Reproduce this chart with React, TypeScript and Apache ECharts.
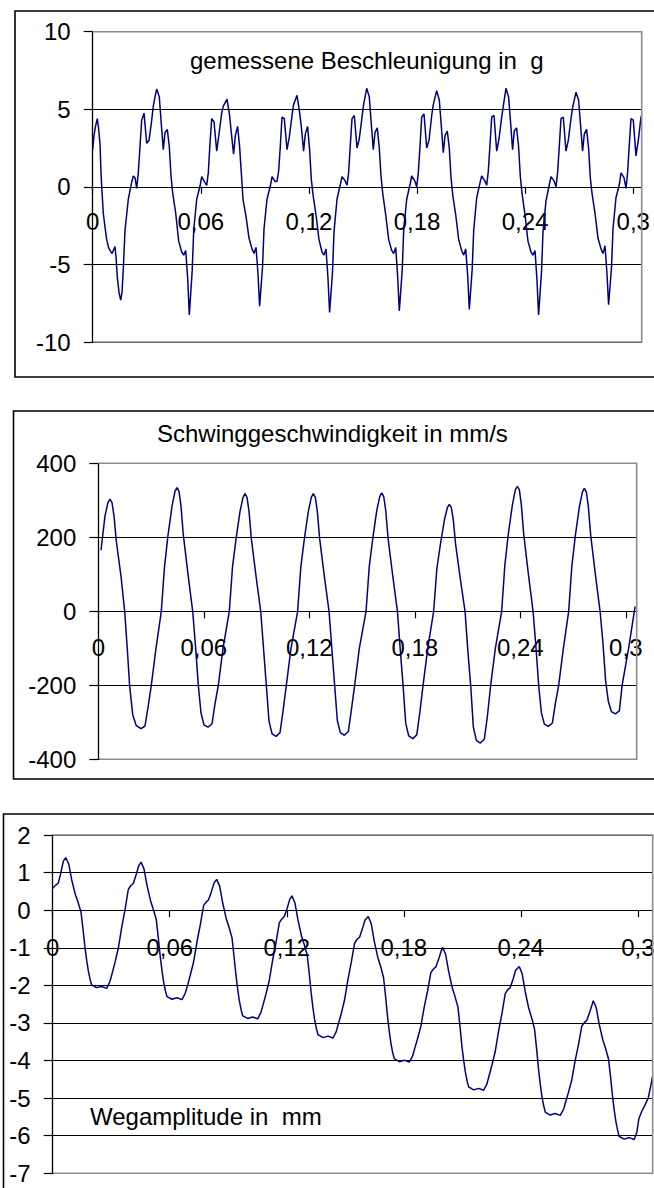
import { useEffect, useRef } from 'react';
import * as echarts from 'echarts';

// ---- data (time in milliseconds, values in chart units) ----

const xTickValues = [0, 0.06, 0.12, 0.18, 0.24, 0.3];

const accTitle = 'gemessene Beschleunigung in  g';
const velTitle = 'Schwinggeschwindigkeit in mm/s';
const dispTitle = 'Wegamplitude in  mm';

// Acceleration in g
const accTimeMs = [
  0, 0.72, 1.55, 2.55, 3.22, 4.05, 4.61, 5.16, 5.88, 6.83, 7.77, 8.77, 9.6, 10.71, 12.38, 12.93, 13.65, 14.6, 15.54, 16.26, 16.98, 17.93, 19.76, 21.65, 22.53, 23.48, 24.42, 25.31, 26.25, 27.2, 28.47, 29.97, 31.25, 32.75, 33.63, 34.58,
  35.52, 36.96, 37.91, 39.18, 40.13, 41.4, 42.51, 43.46, 44.4, 46.07, 47.73, 49.4, 50.51, 51.62, 52.72, 53.62, 55.22, 56.06, 57.72, 59.66, 60.5, 62.16, 63.27, 64.16, 65.1, 66.05, 67.32, 68.82, 70.1, 71.6, 72.48,
  74.54, 75.98, 76.93, 78.2, 79.15, 80.42, 81.53, 82.48, 83.42, 85.09, 86.75, 88.42, 89.53, 90.64, 91.74, 92.64, 94.24, 95.08, 96.74, 98.68, 99.52, 101.18, 102.29, 103.18, 104.12, 105.07, 106.34, 107.84, 109.12, 110.62, 111.5,
  113.39, 114.83, 115.78, 117.05, 118.0, 119.27, 120.38, 121.33, 122.27, 123.94, 125.6, 127.27, 128.38, 129.49, 130.59, 131.49, 133.09, 133.93, 135.59, 137.53, 138.37, 140.03, 141.14, 142.03, 142.97, 143.92, 145.19, 146.69, 147.97, 149.47, 150.35,
  152.07, 153.51, 154.46, 155.73, 156.68, 157.95, 159.06, 160.01, 160.95, 162.62, 164.28, 165.95, 167.06, 168.17, 169.27, 170.17, 171.77, 172.61, 174.27, 176.21, 177.05, 178.71, 179.82, 180.71, 181.65, 182.6, 183.87, 185.37, 186.65, 188.15, 189.03,
  190.92, 192.36, 193.31, 194.58, 195.53, 196.8, 197.91, 198.86, 199.8, 201.47, 203.13, 204.8, 205.91, 207.02, 208.12, 209.02, 210.62, 211.46, 213.12, 215.06, 215.9, 217.56, 218.67, 219.56, 220.5, 221.45, 222.72, 224.22, 225.5, 227.0, 227.88,
  229.38, 230.82, 231.77, 233.04, 233.99, 235.26, 236.37, 237.32, 238.26, 239.93, 241.59, 243.26, 244.37, 245.48, 246.58, 247.48, 249.08, 249.92, 251.58, 253.52, 254.36, 256.02, 257.13, 258.02, 258.96, 259.91, 261.18, 262.68, 263.96, 265.46, 266.34,
  268.23, 269.67, 270.62, 271.89, 272.84, 274.11, 275.22, 276.17, 277.11, 278.78, 280.44, 282.11, 283.22, 284.33, 285.43, 286.33, 287.93, 288.77, 290.43, 292.37, 293.21, 294.87, 295.98, 296.87, 297.81, 298.76, 300.03, 301.53, 302.81, 304.31, 304.7,
];
const accValue = [
  2.4, 3.3, 3.9, 4.4, 3.8, 2.8, 0.9, -0.3, -1.7, -2.6, -3.4, -3.9, -4.1, -4.3, -3.85, -4.5, -5.8, -6.8, -7.3, -6.8, -5.3, -2.8, -0.8, 0.3, 0.7, 0.6, -0.1, 0.9, 2.6, 4.3, 4.75, 2.8, 3.0, 4.3, 5.2, 5.8,
  6.3, 5.8, 4.3, 2.4, 3.5, 3.7, 2.6, 0.7, -0.4, -1.7, -3.5, -4.2, -4.4, -4.1, -5.9, -8.25, -5.4, -2.8, -0.8, 0.1, 0.66, 0.3, 0.1, 0.9, 2.8, 4.4, 4.2, 2.3, 3.4, 4.75, 5.2,
  5.65, 4.6, 3.5, 2.1, 3.3, 3.9, 2.6, 0.9, -0.8, -1.9, -3.3, -4.0, -4.3, -3.9, -5.6, -7.7, -5.2, -2.7, -0.8, 0.1, 0.66, 0.35, 0.35, 1.0, 2.6, 4.5, 4.4, 2.4, 3.2, 4.6, 5.3,
  5.9, 4.8, 3.9, 2.3, 3.4, 3.9, 2.4, 0.5, -0.5, -1.8, -3.4, -4.2, -4.4, -4.0, -5.9, -8.1, -5.5, -2.9, -0.8, 0.2, 0.66, 0.4, 0.1, 0.9, 2.7, 4.4, 4.6, 2.5, 3.1, 4.5, 5.3,
  6.35, 5.8, 4.3, 2.4, 3.5, 3.8, 2.5, 0.7, -0.4, -1.8, -3.4, -4.1, -4.3, -3.9, -5.8, -8.0, -5.4, -2.8, -0.8, 0.2, 0.7, 0.4, 0.0, 0.9, 2.6, 4.5, 4.7, 2.5, 3.0, 4.6, 5.3,
  6.2, 5.6, 4.2, 2.2, 3.3, 3.6, 2.5, 0.6, -0.5, -1.8, -3.4, -4.1, -4.4, -4.0, -5.7, -7.9, -5.3, -2.8, -0.7, 0.3, 0.7, 0.4, 0.1, 1.0, 2.7, 4.5, 4.6, 2.3, 3.1, 4.5, 5.2,
  6.35, 5.8, 4.4, 2.4, 3.6, 3.8, 2.6, 0.7, -0.4, -1.8, -3.5, -4.2, -4.4, -4.1, -6.0, -8.25, -5.5, -2.9, -0.9, 0.2, 0.66, 0.4, 0.0, 0.9, 2.6, 4.4, 4.5, 2.3, 3.0, 4.4, 5.1,
  6.1, 5.6, 4.2, 2.3, 3.4, 3.7, 2.5, 0.6, -0.4, -1.7, -3.3, -4.0, -4.3, -3.8, -5.6, -7.6, -5.2, -2.7, -0.7, 0.2, 0.9, 0.6, -0.1, 0.9, 2.7, 4.4, 4.3, 2.0, 3.0, 4.5, 4.6,
];

// Vibration velocity in mm/s
const velTimeMs = [
  1.54, 3.81, 5.51, 6.65, 7.79, 8.93, 10.23, 12.91, 15.0, 16.4, 17.8, 19.6, 21.5, 24.28, 26.56, 28.26, 30.14, 32.81,
  35.83, 37.65, 39.64, 41.92, 43.62, 44.76, 45.9, 47.04, 48.34, 51.02, 53.69, 55.28, 56.88, 58.41, 60.12, 62.39, 64.67, 66.37, 68.25, 70.92,
  74.51, 76.33, 78.32, 80.6, 82.3, 83.44, 84.58, 85.72, 87.02, 89.7, 92.37, 93.96, 95.56, 97.09, 98.8, 101.07, 103.35, 105.05, 106.93, 109.6,
  113.36, 115.18, 117.17, 119.45, 121.15, 122.29, 123.43, 124.57, 125.87, 128.55, 131.22, 132.81, 134.41, 135.94, 137.65, 139.92, 142.2, 143.9, 145.78, 148.45,
  152.27, 154.09, 156.08, 158.36, 160.06, 161.2, 162.34, 163.48, 164.78, 167.46, 170.13, 171.72, 173.32, 174.85, 176.56, 178.83, 181.11, 182.81, 184.69, 187.36,
  190.72, 192.54, 194.53, 196.81, 198.51, 199.65, 200.79, 201.93, 203.23, 205.91, 208.58, 210.17, 211.77, 213.3, 215.01, 217.28, 219.56, 221.26, 223.14, 225.81,
  229.4, 231.22, 233.21, 235.49, 237.19, 238.33, 239.47, 240.61, 241.91, 244.59, 247.26, 248.85, 250.45, 251.98, 253.69, 255.96, 258.24, 259.94, 261.82, 264.49,
  267.51, 269.33, 271.32, 273.6, 275.3, 276.44, 277.58, 278.72, 280.02, 282.7, 285.37, 286.96, 288.56, 290.09, 291.8, 294.07, 296.35, 297.9, 301.6, 305.27,
];
const velValue = [
  165, 258, 294, 303, 294, 258, 190, 95, 0, -95, -200, -280, -308, -317, -310, -260, -200, -100,
  0, 120, 205, 284, 324, 334, 324, 284, 207, 100, 0, -94, -200, -275, -307, -313, -304, -250, -200, -100,
  0, 120, 195, 270, 308, 318, 308, 270, 197, 95, 0, -100, -200, -297, -331, -338, -328, -270, -200, -100,
  0, 120, 195, 270, 308, 318, 308, 270, 197, 95, 0, -100, -200, -295, -328, -335, -325, -268, -200, -100,
  0, 120, 196, 272, 310, 320, 310, 272, 198, 96, 0, -103, -200, -303, -337, -344, -334, -275, -200, -100,
  0, 115, 180, 246, 280, 289, 280, 246, 180, 87, 0, -107, -200, -313, -349, -356, -345, -285, -200, -100,
  0, 125, 210, 287, 328, 338, 328, 287, 210, 101, 0, -93, -200, -274, -305, -311, -302, -249, -200, -100,
  0, 123, 205, 282, 322, 332, 322, 282, 206, 100, 0, -83, -190, -244, -271, -277, -269, -200, -100, 13,
];

// Displacement in mm
const dispTimeMs = [
  0, 1.18, 2.87, 3.74, 5.43,
  6.66, 8.2, 9.74, 11.53, 13.12, 14.5, 15.53, 16.55, 17.42, 18.24, 19.22, 19.99, 22.55, 25.11, 27.68, 29.37, 30.75, 31.93, 33.62, 35.37, 37.06, 38.75, 39.98, 41.31, 42.8, 44.08,
  45.26, 46.8, 48.34, 50.13, 51.72, 53.1, 54.13, 55.15, 56.02, 56.84, 57.82, 58.59, 61.15, 63.71, 66.28, 67.97, 69.35, 70.53, 72.22, 73.97, 75.66, 77.35, 78.58, 79.91, 81.4, 82.68,
  84.07, 85.61, 87.15, 88.94, 90.53, 91.91, 92.94, 93.96, 94.83, 95.65, 96.63, 97.4, 99.96, 102.52, 105.09, 106.78, 108.16, 109.34, 111.03, 112.78, 114.47, 116.16, 117.39, 118.72, 120.21, 121.49,
  122.66, 124.2, 125.74, 127.53, 129.12, 130.5, 131.53, 132.55, 133.42, 134.24, 135.22, 135.99, 138.55, 141.11, 143.68, 145.37, 146.75, 147.93, 149.62, 151.37, 153.06, 154.75, 155.98, 157.31, 158.8, 160.08,
  161.78, 163.32, 164.86, 166.65, 168.24, 169.62, 170.65, 171.67, 172.54, 173.36, 174.34, 175.11, 177.67, 180.23, 182.8, 184.49, 185.87, 187.05, 188.74, 190.49, 192.18, 193.87, 195.1, 196.43, 197.92, 199.2,
  199.91, 201.45, 202.99, 204.78, 206.37, 207.75, 208.78, 209.8, 210.67, 211.49, 212.47, 213.24, 215.8, 218.36, 220.93, 222.62, 224.0, 225.18, 226.87, 228.62, 230.31, 232.0, 233.23, 234.56, 236.05, 237.33,
  239.18, 240.72, 242.26, 244.05, 245.64, 247.02, 248.05, 249.07, 249.94, 250.76, 251.74, 252.51, 255.07, 257.63, 260.2, 261.89, 263.27, 264.45, 266.14, 267.89, 269.58, 271.27, 272.5, 273.83, 275.32, 276.6,
  277.11, 278.65, 280.19, 281.98, 283.57, 284.95, 285.98, 287.0, 287.87, 288.69, 289.67, 290.44, 293.0, 295.56, 298.13, 299.5, 300.5, 302.0, 303.5, 305.3, 306.5, 307.5,
];
const dispValue = [
  0.58, 0.65, 0.72, 0.9, 1.3,
  1.4, 1.23, 0.81, 0.43, 0.19, -0.05, -0.5, -0.99, -1.33, -1.61, -1.85, -1.99, -2.06, -2.03, -2.08, -1.89, -1.63, -1.39, -1.02, -0.46, 0.01, 0.55, 0.65, 0.71, 0.95, 1.18,
  1.28, 1.1, 0.66, 0.26, 0.0, -0.25, -0.73, -1.24, -1.6, -1.9, -2.15, -2.3, -2.37, -2.33, -2.38, -2.21, -1.96, -1.73, -1.38, -0.84, -0.39, 0.12, 0.21, 0.28, 0.5, 0.72,
  0.82, 0.64, 0.19, -0.22, -0.48, -0.73, -1.22, -1.73, -2.1, -2.4, -2.66, -2.81, -2.88, -2.84, -2.89, -2.72, -2.46, -2.23, -1.87, -1.32, -0.86, -0.34, -0.24, -0.17, 0.05, 0.28,
  0.38, 0.19, -0.26, -0.68, -0.94, -1.2, -1.69, -2.22, -2.6, -2.9, -3.16, -3.31, -3.39, -3.35, -3.4, -3.23, -2.97, -2.75, -2.39, -1.84, -1.39, -0.88, -0.78, -0.72, -0.49, -0.27,
  -0.17, -0.36, -0.83, -1.25, -1.52, -1.79, -2.29, -2.83, -3.22, -3.53, -3.8, -3.95, -4.03, -3.99, -4.04, -3.88, -3.63, -3.42, -3.09, -2.57, -2.15, -1.66, -1.57, -1.51, -1.29, -1.08,
  -0.99, -1.18, -1.63, -2.05, -2.32, -2.58, -3.07, -3.63, -3.98, -4.29, -4.55, -4.7, -4.78, -4.74, -4.79, -4.62, -4.35, -4.12, -3.76, -3.21, -2.75, -2.22, -2.12, -2.06, -1.83, -1.6,
  -1.5, -1.7, -2.17, -2.61, -2.88, -3.16, -3.67, -4.23, -4.62, -4.94, -5.21, -5.37, -5.45, -5.41, -5.46, -5.3, -5.05, -4.84, -4.51, -3.99, -3.57, -3.08, -2.99, -2.93, -2.71, -2.5,
  -2.41, -2.59, -3.04, -3.44, -3.7, -3.96, -4.43, -4.95, -5.32, -5.61, -5.87, -6.02, -6.09, -6.05, -6.1, -5.9, -5.55, -5.35, -5.2, -5.0, -4.7, -4.42,
];

// ---- layout ----

const FONT = '"Liberation Sans", Arial, Helvetica, sans-serif';
const LINE_COLOR = '#000080';

type Panel = {
  frame: [number, number, number, number];
  plot: { left: number; top: number; width: number; height: number };
  xMaxSec: number;
  yMin: number;
  yMax: number;
  yStep: number;
  xLabelMargin: number;
  title: string;
  titleAt: [number, number];
  times: number[];
  values: number[];
};

const panels: Panel[] = [
  {
    frame: [15, 11, 660, 366],
    plot: { left: 92.7, top: 31.7, width: 549, height: 310.3 },
    xMaxSec: 0.3047,
    yMin: -10, yMax: 10, yStep: 5,
    xLabelMargin: 23,
    title: accTitle, titleAt: [190, 60],
    times: accTimeMs, values: accValue,
  },
  {
    frame: [13.5, 411, 660, 368],
    plot: { left: 98.3, top: 463.3, width: 538.4, height: 296 },
    xMaxSec: 0.3062,
    yMin: -400, yMax: 400, yStep: 200,
    xLabelMargin: 24,
    title: velTitle, titleAt: [157, 433],
    times: velTimeMs, values: velValue,
  },
  {
    frame: [3.5, 814, 660, 420],
    plot: { left: 52.7, top: 835, width: 600, height: 338.3 },
    xMaxSec: 0.3076,
    yMin: -7, yMax: 2, yStep: 1,
    xLabelMargin: 25,
    title: dispTitle, titleAt: [90, 1116.5],
    times: dispTimeMs, values: dispValue,
  },
];

const labelStyle = { fontSize: 24, fontFamily: FONT, color: '#000' };

// Distance from the bottom of the plot up to the value-zero line, so the
// whole time axis (line, ticks, labels) sits on y = 0.
function zeroLineLift(p: Panel): number {
  return (p.plot.height * (0 - p.yMin)) / (p.yMax - p.yMin);
}

function buildOption(): echarts.EChartsCoreOption {
  const graphics: any[] = [];
  panels.forEach((p) => {
    const [fx, fy, fw, fh] = p.frame;
    graphics.push({
      type: 'rect',
      silent: true,
      z: 20,
      shape: { x: fx, y: fy, width: fw, height: fh },
      style: { fill: 'none', stroke: '#000', lineWidth: 1.6 },
    });
    const { left, top, width, height } = p.plot;
    graphics.push({
      type: 'polyline',
      silent: true,
      z: 20,
      shape: {
        points: [
          [left, top],
          [left + width, top],
          [left + width, top + height],
          [left + 1, top + height],
        ],
      },
      style: { fill: 'none', stroke: '#8c8c8c', lineWidth: 1.6 },
    });
    graphics.push({
      type: 'text',
      silent: true,
      z: 20,
      x: p.titleAt[0],
      y: p.titleAt[1],
      style: {
        text: p.title,
        fill: '#000',
        fontSize: 24,
        fontFamily: FONT,
        verticalAlign: 'middle',
        align: 'left',
      },
    });
  });

  return {
    animation: false,
    backgroundColor: '#fff',
    grid: panels.map((p) => ({
      left: p.plot.left,
      top: p.plot.top,
      width: p.plot.width,
      height: p.plot.height,
      outerBoundsMode: 'none',
      containLabel: false,
    })),
    xAxis: panels.map((p, i) => ({
      type: 'value',
      gridIndex: i,
      position: 'bottom',
      offset: -zeroLineLift(p),
      min: 0,
      max: p.xMaxSec,
      axisLine: { show: true, onZero: false, lineStyle: { color: '#000', width: 1.2 } },
      axisTick: {
        show: true,
        customValues: xTickValues,
        length: 7,
        inside: false,
        lineStyle: { color: '#000', width: 1.2 },
      },
      axisLabel: {
        ...labelStyle,
        customValues: xTickValues,
        margin: p.xLabelMargin,
        formatter: (v: number) => String(v).replace('.', ','),
      },
      splitLine: { show: false },
    })),
    yAxis: panels.map((p, i) => ({
      type: 'value',
      gridIndex: i,
      min: p.yMin,
      max: p.yMax,
      interval: p.yStep,
      axisLine: { show: true, onZero: false, lineStyle: { color: '#000', width: 1.3 } },
      axisTick: { show: true, length: 9, inside: false, lineStyle: { color: '#000', width: 1.2 } },
      axisLabel: { ...labelStyle, margin: 22 },
      splitLine: { show: true, lineStyle: { color: '#000', width: 1.2 } },
    })),
    series: panels.map((p, i) => ({
      type: 'line',
      xAxisIndex: i,
      yAxisIndex: i,
      symbol: 'none',
      showSymbol: false,
      clip: true,
      lineStyle: { color: LINE_COLOR, width: 1.5 },
      data: p.times.map((t, k) => [t / 1000, p.values[k]]),
    })),
    graphic: graphics,
  };
}

export default function App() {
  const ref = useRef<HTMLDivElement>(null);
  useEffect(() => {
    document.body.style.margin = '0';
    const chart = echarts.init(ref.current!, null, { renderer: 'svg' });
    chart.setOption(buildOption());
    return () => chart.dispose();
  }, []);
  return <div ref={ref} style={{ width: 654, height: 1188, background: '#fff' }} />;
}
